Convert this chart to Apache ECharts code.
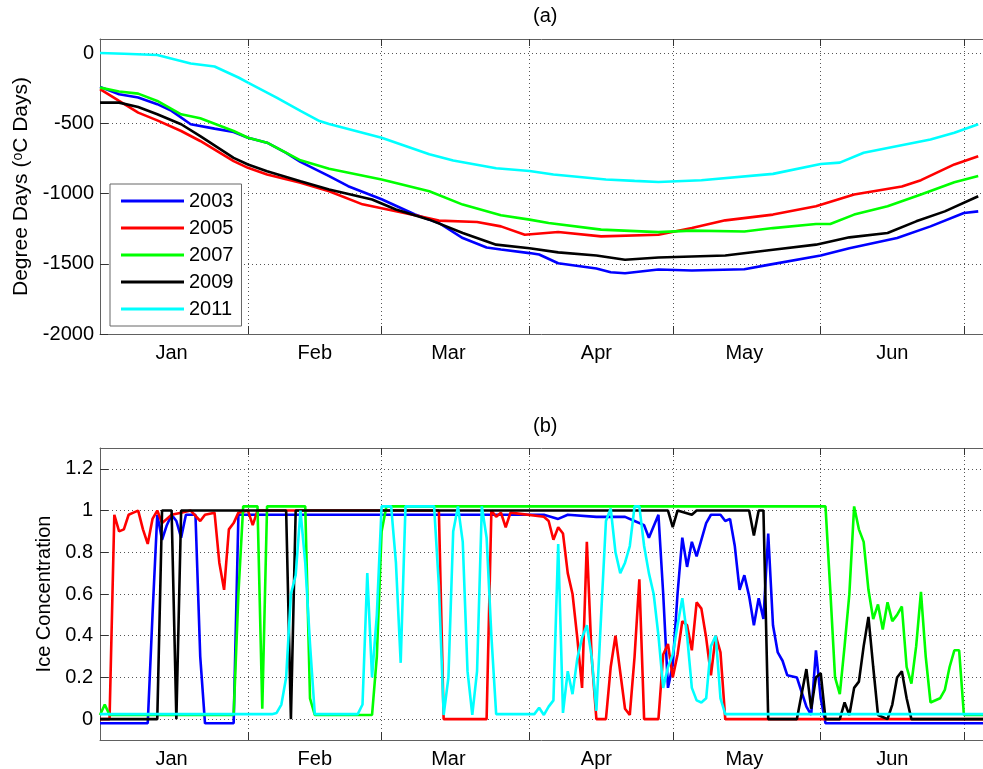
<!DOCTYPE html>
<html><head><meta charset="utf-8">
<script src="https://cdn.jsdelivr.net/npm/echarts@6/dist/echarts.min.js"></script>
<style>html,body{margin:0;padding:0;background:#fff}#c{width:983px;height:769px}</style>
</head><body><div id="c"></div>
<script>
const years = ['2003','2005','2007','2009','2011'];
const colors = ['#0000ff','#ff0000','#00ff00','#000000','#00ffff'];
const monthNames = ['Jan','Feb','Mar','Apr','May','Jun'];
const monthLabelDays = [15,45,73,104,135,166];
const monthStartDays = [31,59,90,120,151,181];
const ddTicks = [-2000,-1500,-1000,-500,0];
const iceTicks = [0,0.2,0.4,0.6,0.8,1,1.2];

// (a) Degree days, day of year (0 = Jan 1)
const dd2003Days = [0,4,8,12,15,19,24,28,31,35,39,42,48,52,59,66,71,76,81,84,90,92,96,104,107,110,117,124,135,140,151,157,167,174,181,184];
const dd2003 = [-241,-293,-317,-364,-412,-507,-538,-562,-603,-638,-710,-775,-876,-948,-1041,-1149,-1210,-1317,-1384,-1398,-1424,-1434,-1496,-1534,-1560,-1567,-1541,-1548,-1539,-1508,-1441,-1389,-1317,-1234,-1139,-1127];
const dd2005Days = [0,4,8,12,17,21,28,31,35,42,48,55,60,67,71,79,84,89,96,105,117,124,131,141,150,158,168,172,176,179,184];
const dd2005 = [-257,-341,-424,-479,-555,-626,-769,-817,-864,-924,-984,-1077,-1112,-1162,-1193,-1203,-1234,-1293,-1274,-1305,-1293,-1246,-1191,-1150,-1091,-1007,-950,-905,-841,-793,-734];
const dd2007Days = [0,4,8,12,17,21,28,31,35,42,48,59,69,76,84,90,94,105,117,124,135,141,150,153,158,165,172,179,184];
const dd2007 = [-246,-274,-289,-341,-436,-464,-555,-603,-638,-764,-823,-900,-984,-1079,-1155,-1186,-1210,-1257,-1275,-1264,-1270,-1246,-1217,-1217,-1150,-1091,-1007,-920,-876];
const dd2009Days = [0,4,8,12,17,21,28,31,35,42,48,57,62,69,76,83,90,96,104,110,117,124,131,141,150,157,165,171,177,184];
const dd2009 = [-353,-353,-384,-436,-507,-591,-746,-793,-841,-912,-971,-1043,-1114,-1186,-1281,-1364,-1389,-1419,-1441,-1471,-1455,-1448,-1441,-1400,-1364,-1312,-1281,-1198,-1127,-1019];
const dd2011Days = [0,5,12,19,24,29,31,37,42,46,48,59,69,74,83,90,95,106,112,117,126,141,151,155,160,174,179,184];
const dd2011 = [0,-5,-14,-74,-96,-174,-210,-317,-412,-484,-505,-603,-720,-765,-820,-840,-865,-900,-910,-918,-905,-860,-790,-780,-710,-615,-567,-507];

// (b) Ice concentration
const ice2003Days = [0,10,11,12,13,14,15,16,17,18,20,21,22,28,29,93,96,98,104,110,112,114,115,117,118,119,120,121,122,123,124,125,127,128,130,131,132,133,134,135,136,137,138,139,140,141,142,143,144,146,147,148,149,150,151,152,185];
const ice2003 = [-0.02,-0.02,0.5,0.98,0.86,0.93,0.98,0.95,0.87,0.98,0.98,0.3,-0.02,-0.02,0.98,0.98,0.96,0.98,0.97,0.97,0.95,0.93,0.87,0.98,0.6,0.15,0.26,0.6,0.87,0.73,0.85,0.78,0.94,0.98,0.98,0.95,0.96,0.83,0.62,0.69,0.59,0.45,0.58,0.48,0.89,0.45,0.32,0.28,0.21,0.2,0.13,0.06,0.02,0.33,0.1,-0.02,-0.02];
const ice2005Days = [0,2,3,4,5,6,7,8,9,10,11,12,13,14,15,17,19,21,22,24,25,26,27,28,29,31,32,33,71,72,81,82,83,84,85,86,93,94,95,96,97,98,99,100,101,102,103,104,106,107,108,110,111,112,113,114,117,118,119,120,121,122,123,124,125,126,127,128,129,130,131,185];
const ice2005 = [0,0,0.98,0.9,0.91,0.98,0.99,1,0.91,0.84,0.96,1,0.94,0.96,0.98,0.99,1,0.95,0.98,0.99,0.75,0.62,0.91,0.94,0.99,1,0.93,1,1,0,0,1,0.97,0.99,0.92,0.99,0.97,0.95,0.86,0.92,0.89,0.7,0.6,0.39,0.15,0.85,0.3,0,0,0.25,0.4,0.05,0.02,0.3,0.67,0,0,0.31,0.36,0.2,0.31,0.47,0.45,0.33,0.56,0.53,0.39,0.21,0.4,0.32,0,0];
const ice2007Days = [0,1,2,28,29,30,33,34,35,43,44,45,57,58,59,60,152,153,154,155,156,157,158,159,160,161,162,163,164,165,166,167,168,169,170,171,172,173,174,176,177,178,179,180,181,185];
const ice2007 = [0.02,0.07,0.02,0.02,0.6,1.02,1.02,0.05,1.02,1.02,0.1,0.02,0.02,0.3,0.9,1.02,1.02,0.62,0.2,0.12,0.35,0.6,1.02,0.91,0.85,0.62,0.48,0.55,0.43,0.56,0.47,0.5,0.54,0.25,0.17,0.35,0.61,0.3,0.08,0.1,0.14,0.25,0.33,0.33,0.02,0.02];
const ice2009Days = [0,12,13,15,16,17,39,40,41,119,120,121,124,125,136,137,138,139,140,146,147,148,149,150,151,152,155,156,157,158,159,160,161,162,163,165,166,167,168,169,170,185];
const ice2009 = [0,0,1,1,0,1,1,0,1,1,0.92,1,0.98,1,1,0.88,1,1,0,0,0.12,0.24,0.05,0.2,0.22,0,0,0.08,0.02,0.15,0.18,0.35,0.49,0.25,0.02,0,0.07,0.2,0.23,0.1,0,0];
const ice2011Days = [0,36,37,38,39,40,41,42,43,44,45,54,55,56,57,58,59,61,62,63,64,70,71,72,73,74,75,76,77,78,79,80,81,82,83,90,91,92,93,94,95,96,97,98,99,100,101,102,103,104,105,106,107,108,109,110,111,112,113,114,115,116,117,118,119,120,121,122,123,124,125,126,127,128,129,130,131,185];
const ice2011 = [0.024,0.024,0.03,0.07,0.2,0.6,0.69,1.0,0.75,0.36,0.024,0.024,0.07,0.7,0.2,0.5,1.02,1.02,0.75,0.27,1.02,1.02,0.64,0.02,0.2,0.9,1.02,0.85,0.23,0.02,0.23,1.02,0.87,0.4,0.024,0.024,0.024,0.055,0.02,0.06,0.09,0.84,0.03,0.23,0.12,0.29,0.39,0.45,0.3,0.04,0.5,0.95,1.01,0.8,0.7,0.75,0.83,1.02,1.02,0.83,0.7,0.6,0.4,0.15,0.25,0.31,0.45,0.58,0.4,0.15,0.09,0.08,0.1,0.35,0.4,0.1,0.024,0.024];

const ddDays = [dd2003Days,dd2005Days,dd2007Days,dd2009Days,dd2011Days];
const ddVals = [dd2003,dd2005,dd2007,dd2009,dd2011];
const iceDays = [ice2003Days,ice2005Days,ice2007Days,ice2009Days,ice2011Days];
const iceVals = [ice2003,ice2005,ice2007,ice2009,ice2011];

const FONT = '"Liberation Sans", Arial, sans-serif';
const pair = (d, v) => d.map((x, i) => [x, v[i]]);
const gridLine = {show: true, lineStyle: {type: [1, 3], color: '#555', width: 1}};
const boxLine = {show: true, onZero: false, lineStyle: {color: '#606060', width: 1}};

function xAxes(gi) {
  return [
    {gridIndex: gi, type: 'value', min: 0, max: 185, position: 'bottom',
     axisLine: boxLine,
     axisTick: {show: true, inside: true, length: 8, customValues: monthStartDays, lineStyle: {color: '#333'}},
     axisLabel: {customValues: monthLabelDays, formatter: v => monthNames[monthLabelDays.indexOf(v)],
                 fontSize: 20, color: '#000', fontFamily: FONT, margin: 9},
     splitLine: gridLine},
    {gridIndex: gi, type: 'value', min: 0, max: 185, position: 'top',
     axisLine: boxLine,
     axisTick: {show: true, inside: true, length: 7, customValues: monthStartDays, lineStyle: {color: '#333'}},
     axisLabel: {show: false}, splitLine: {show: false}}
  ];
}

const series = [];
years.forEach((y, k) => {
  series.push({name: y, type: 'line', xAxisIndex: 0, yAxisIndex: 0, data: pair(ddDays[k], ddVals[k]),
    showSymbol: false, symbol: 'none', color: colors[k], lineStyle: {width: 2.6, color: colors[k]}, z: 2 + k});
});
years.forEach((y, k) => {
  series.push({name: y, type: 'line', xAxisIndex: 2, yAxisIndex: 1, data: pair(iceDays[k], iceVals[k]),
    showSymbol: false, symbol: 'none', color: colors[k], lineStyle: {width: 2.6, color: colors[k]}, z: 2 + k});
});

const chart = echarts.init(document.getElementById('c'), null, {renderer: 'canvas'});
chart.setOption({
  animation: false,
  backgroundColor: '#fff',
  textStyle: {fontFamily: FONT},
  title: [
    {text: '(a)', left: 533, top: 6, padding: 0, textStyle: {fontSize: 20, fontWeight: 'normal', color: '#000', fontFamily: FONT}},
    {text: '(b)', left: 533, top: 416, padding: 0, textStyle: {fontSize: 20, fontWeight: 'normal', color: '#000', fontFamily: FONT}}
  ],
  grid: [
    {left: 100, top: 39, width: 888, height: 295, containLabel: false},
    {left: 100, top: 448, width: 888, height: 295, containLabel: false}
  ],
  legend: {
    data: years, orient: 'vertical', left: 110, top: 184, icon: 'rect',
    itemWidth: 63, itemHeight: 3, itemGap: 7,
    textStyle: {fontSize: 20, color: '#000', fontFamily: FONT, lineHeight: 20},
    borderColor: '#666', borderWidth: 1, backgroundColor: '#fff', padding: [7, 8, 7, 11],
    selectedMode: false
  },
  xAxis: xAxes(0).concat(xAxes(1)),
  yAxis: [
    {gridIndex: 0, type: 'value', min: -2000, max: 100,
     axisLine: boxLine,
     axisTick: {show: true, inside: true, length: 8, customValues: ddTicks, lineStyle: {color: '#333'}},
     axisLabel: {customValues: ddTicks, formatter: v => String(v), fontSize: 20, color: '#000', fontFamily: FONT, margin: 6},
     splitLine: gridLine,
     name: 'Degree Days ({sup|o}C Days)', nameLocation: 'middle', nameGap: 67,
     nameTextStyle: {fontSize: 21, color: '#000', fontFamily: FONT,
       rich: {sup: {fontSize: 14, color: '#000', fontFamily: FONT, verticalAlign: 'top', lineHeight: 21}}}},
    {gridIndex: 1, type: 'value', min: -0.1, max: 1.3,
     axisLine: boxLine,
     axisTick: {show: true, inside: true, length: 8, customValues: iceTicks, lineStyle: {color: '#333'}},
     axisLabel: {customValues: iceTicks, formatter: v => String(v), fontSize: 20, color: '#000', fontFamily: FONT, margin: 7},
     splitLine: gridLine,
     name: 'Ice Concentration', nameLocation: 'middle', nameGap: 45,
     nameTextStyle: {fontSize: 20, color: '#000', fontFamily: FONT}}
  ],
  series: series
});
</script>
</body></html>
